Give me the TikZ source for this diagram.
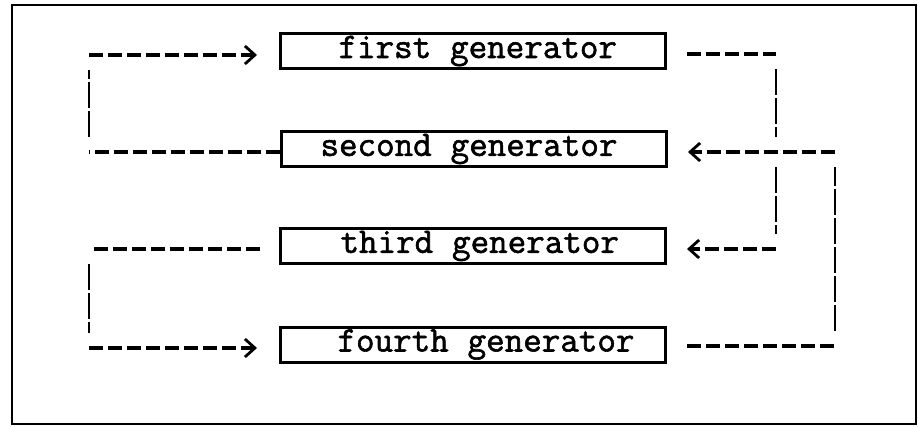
\documentclass[tikz,border=0pt]{standalone}
\usepackage{fontspec}
\newfontfamily\typewriter{Latin Modern Mono}[FakeBold=1.6]
\newcommand*\tsp{\hspace*{0.525em}}% one typewriter character of space
\usetikzlibrary{arrows.meta}
\begin{document}
\begin{tikzpicture}[x=1pt,y=-1pt,
  genbox/.style={draw, line width=3pt, minimum width=385pt, minimum height=35pt,
    text width=385pt, inner xsep=0pt, inner ysep=0pt, align=left, anchor=west,
    font=\typewriter\fontsize{36}{36}\selectfont},
  hline/.style={line width=3.4pt, dash pattern=on 14pt off 5pt},
  vline/.style={line width=2.4pt, dash pattern=on 26pt off 3pt,
    shorten <=15pt, shorten >=15pt},
  tip/.style={-{Straight Barb[length=10pt,width=18pt,line width=2.8pt]}}
]
\useasboundingbox (0,0) rectangle (918,426);

% outer frame
\draw[line width=2.6pt] (12,5) rectangle (916,424);

% the four generators
\node[genbox] (g1) at (279,51)  {\hspace*{58pt}first\tsp generator};
\node[genbox] (g2) at (280,149) {\hspace*{39pt}second\tsp generator};
\node[genbox] (g3) at (279,246) {\hspace*{60pt}third\tsp generator};
\node[genbox] (g4) at (279,344.5) {\hspace*{57pt}fourth\tsp generator};

% corner points of the feedback loops
\coordinate (L1) at (89,55);
\coordinate (L2) at (89,152);
\coordinate (L3) at (89,249);
\coordinate (L4) at (89,348);
\coordinate (R1) at (776,54);
\coordinate (R2) at (776,152);
\coordinate (R3) at (776,249);
\coordinate (Q2) at (835,152);
\coordinate (Q4) at (835,346);

% second -> first (left side)
\draw[hline] (g2.west |- L2) -- (L2);
\draw[vline] (L2) -- (L1);
\draw[hline, tip, shorten >=22pt] (L1) -- (g1.west |- L1);

% third -> fourth (left side)
\draw[hline, shorten <=19pt] (g3.west |- L3) -- (L3);
\draw[vline] (L3) -- (L4);
\draw[hline, tip, shorten >=22pt] (L4) -- (g4.west |- L4);

% first -> third (right side)
\draw[hline, shorten <=20pt] (g1.east |- R1) -- (R1);
\draw[vline] (R1) -- (R2);
\draw[vline] (R2) -- (R3);
\draw[hline, tip, shorten >=20pt] (R3) -- (g3.east |- R3);

% fourth -> second (right side)
\draw[hline, shorten <=20pt] (g4.east |- Q4) -- (Q4);
\draw[vline] (Q4) -- (Q2);
\draw[hline, tip, shorten >=20pt] (Q2) -- (g2.east |- Q2);
\end{tikzpicture}
\end{document}
